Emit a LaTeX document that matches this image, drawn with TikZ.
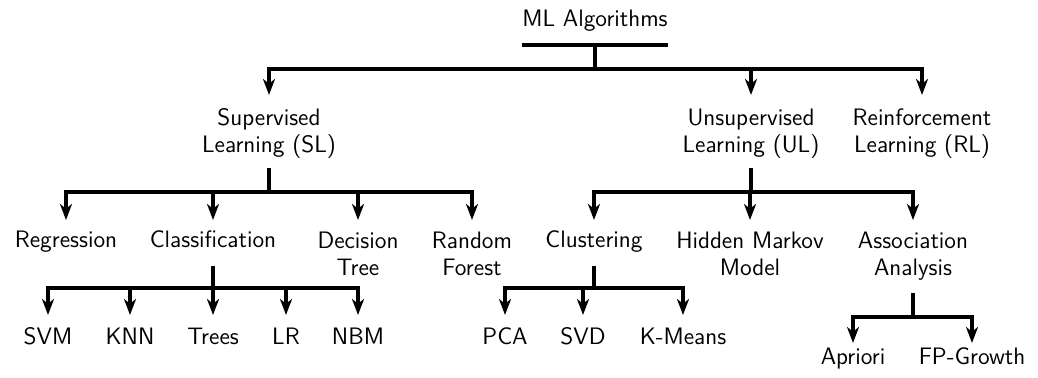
\documentclass[tikz,border=0pt]{standalone}
\usepackage{fontspec}
\usetikzlibrary{arrows.meta}
\begin{document}
\begin{tikzpicture}[x=0.5pt,y=-0.5pt,
  lbl/.style={anchor=base,inner sep=0pt,align=center,font=\sffamily\fontsize{11.9}{13.9}\selectfont},
  conn/.style={line width=1.6pt},
  arr/.style={line width=1.6pt,-{Stealth[length=8pt,width=6pt,inset=2.4pt]}}]
\useasboundingbox (0,0) rectangle (1038,378);
% nodes (anchor = baseline of the last line)
\node[lbl] (root) at (595,27) {ML Algorithms};
\node[lbl] (sl) at (269,153) {Supervised\\Learning (SL)};
\node[lbl] (ul) at (751,153) {Unsupervised\\Learning (UL)};
\node[lbl] (rl) at (922,153) {Reinforcement\\Learning (RL)};
\node[lbl] (reg) at (66,248) {Regression};
\node[lbl] (cls) at (213,248) {Classification};
\node[lbl] (dt) at (358,276) {Decision\\Tree};
\node[lbl] (rf) at (472,276) {Random\\Forest};
\node[lbl] (clu) at (594,248) {Clustering};
\node[lbl] (hmm) at (750,276) {Hidden Markov\\Model};
\node[lbl] (aa) at (913,276) {Association\\Analysis};
\node[lbl] (svm) at (48,345) {SVM};
\node[lbl] (knn) at (130,345) {KNN};
\node[lbl] (trees) at (213,345) {Trees};
\node[lbl] (lr) at (286,345) {LR};
\node[lbl] (nbm) at (358,345) {NBM};
\node[lbl] (pca) at (505,345) {PCA};
\node[lbl] (svd) at (583,345) {SVD};
\node[lbl] (km) at (683,345) {K-Means};
\node[lbl] (apr) at (853,365) {Apriori};
\node[lbl] (fpg) at (972,365) {FP-Growth};
% root
\draw[conn] (root.west |- 0,45) -- (root.east |- 0,45);
\foreach \c in {sl,ul,rl}
  \draw[arr] (root |- 0,45) -- (root |- 0,69) -| (\c |- 0,95);
% supervised
\foreach \c in {reg,cls,dt,rf}
  \draw[arr] (sl |- 0,168) -- (sl |- 0,192) -| (\c |- 0,220);
% unsupervised
\foreach \c in {clu,hmm,aa}
  \draw[arr] (ul |- 0,168) -- (ul |- 0,192) -| (\c |- 0,220);
% classification
\foreach \c in {svm,knn,trees,lr,nbm}
  \draw[arr] (cls |- 0,266) -- (cls |- 0,288) -| (\c |- 0,315);
% clustering
\foreach \c in {pca,svd,km}
  \draw[arr] (clu |- 0,266) -- (clu |- 0,288) -| (\c |- 0,315);
% association
\foreach \c in {apr,fpg}
  \draw[arr] (aa |- 0,293) -- (aa |- 0,317) -| (\c |- 0,343);
\end{tikzpicture}
\end{document}
